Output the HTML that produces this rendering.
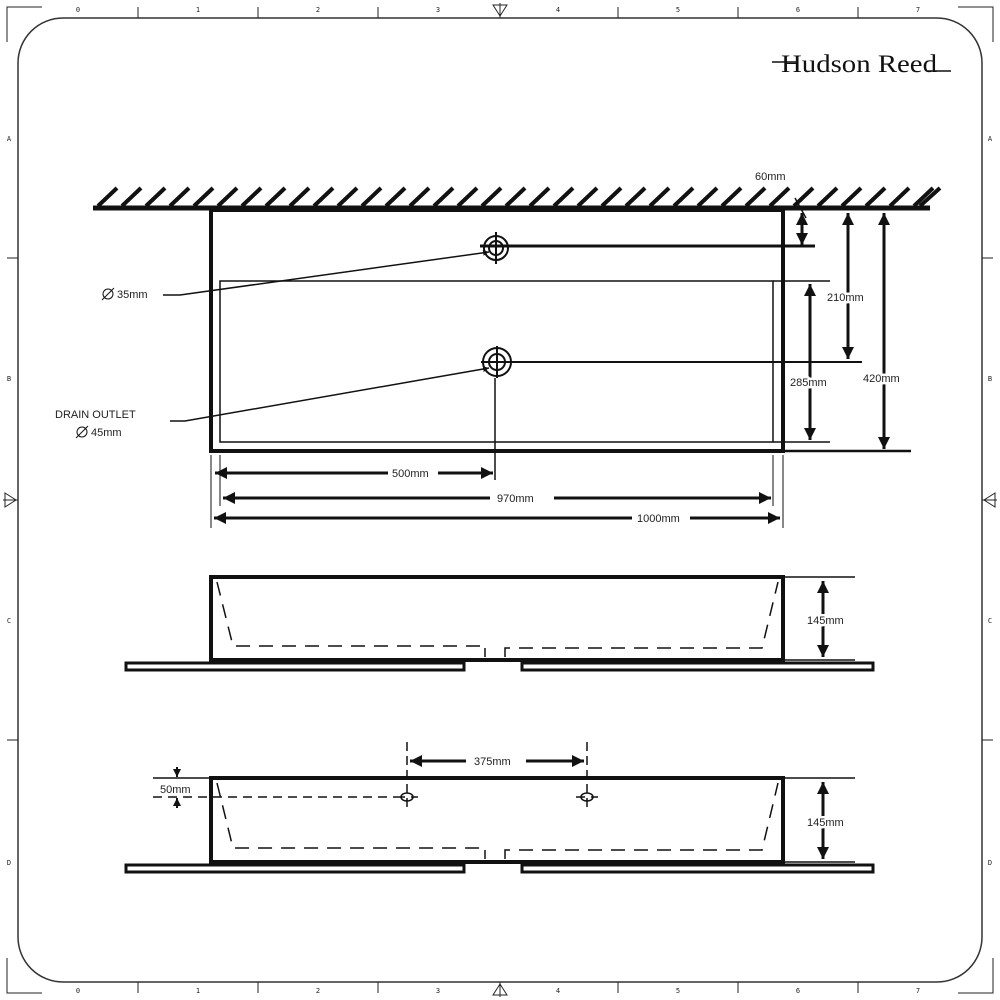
<!DOCTYPE html>
<html><head><meta charset="utf-8"><style>html,body{margin:0;padding:0;background:#fff}svg{display:block}.w{stroke:#fff;stroke-width:5px;paint-order:stroke;stroke-linejoin:round}</style></head><body>
<svg width="1000" height="1000" viewBox="0 0 1000 1000" xmlns="http://www.w3.org/2000/svg" font-family="Liberation Sans, sans-serif" font-size="11">
<defs>
<marker id="a" viewBox="0 0 10 10" refX="10" refY="5" markerWidth="4" markerHeight="4" orient="auto-start-reverse"><path d="M0,0L10,5L0,10z" fill="#111"/></marker>
</defs>
<!-- frame -->
<rect x="18" y="18" width="964" height="964" rx="45" fill="none" stroke="#333" stroke-width="1.5"/>
<g stroke="#222" stroke-width="1" fill="none">
<path d="M7,42V7H42M958,7H993V42M7,958V993H42M958,993H993V958"/>
<path d="M138,7V18M258,7V18M378,7V18M618,7V18M738,7V18M858,7V18"/>
<path d="M138,982V993M258,982V993M378,982V993M618,982V993M738,982V993M858,982V993"/>
<path d="M7,258H18M7,740H18M982,258H993M982,740H993"/>
<path d="M493,5L500,16L507,5ZM500,3V18M493,995L500,984L507,995ZM500,982V997"/>
<path d="M5,493L16,500L5,507ZM3,500H18M995,493L984,500L995,507ZM982,500H997"/>
</g>
<g font-family="DejaVu Sans Mono, monospace" font-size="7" fill="#222" text-anchor="middle">
<text x="78" y="12">0</text><text x="198" y="12">1</text><text x="318" y="12">2</text><text x="438" y="12">3</text><text x="558" y="12">4</text><text x="678" y="12">5</text><text x="798" y="12">6</text><text x="918" y="12">7</text>
<text x="78" y="993">0</text><text x="198" y="993">1</text><text x="318" y="993">2</text><text x="438" y="993">3</text><text x="558" y="993">4</text><text x="678" y="993">5</text><text x="798" y="993">6</text><text x="918" y="993">7</text>
<text x="9" y="141">A</text><text x="9" y="381">B</text><text x="9" y="623">C</text><text x="9" y="865">D</text>
<text x="990" y="141">A</text><text x="990" y="381">B</text><text x="990" y="623">C</text><text x="990" y="865">D</text>
</g>
<!-- logo -->
<text x="781" y="72" font-family="Liberation Serif, serif" font-size="25" fill="#111" textLength="156" lengthAdjust="spacingAndGlyphs">Hudson Reed</text>
<path d="M772,62H796M928,71H951" stroke="#111" stroke-width="1.5"/>

<!-- wall -->
<g stroke="#111" fill="none">
<path d="M93,208H930" stroke-width="5"/>
<path stroke-width="4" d="M98,206L117,188M122,206L141,188M146,206L165,188M170,206L189,188M194,206L213,188M218,206L237,188M242,206L261,188M266,206L285,188M290,206L309,188M314,206L333,188M338,206L357,188M362,206L381,188M386,206L405,188M410,206L429,188M434,206L453,188M458,206L477,188M482,206L501,188M506,206L525,188M530,206L549,188M554,206L573,188M578,206L597,188M602,206L621,188M626,206L645,188M650,206L669,188M674,206L693,188M698,206L717,188M722,206L741,188M746,206L765,188M770,206L789,188M794,206L813,188M818,206L837,188M842,206L861,188M866,206L885,188M890,206L909,188M914,206L933,188M920,206L940,188"/>
<!-- top view -->
<rect x="211" y="210" width="572" height="241" stroke-width="4"/>
<rect x="220" y="281" width="553" height="161" stroke-width="1.5"/>
<path d="M773,281H830M773,442H830" stroke-width="1.5"/>
<path d="M783,451H911" stroke-width="2.5"/>
<path d="M480,246H815" stroke-width="3"/>
<path d="M485,362H862" stroke-width="2"/>
<circle cx="496" cy="248" r="12" stroke-width="2"/><circle cx="496" cy="248" r="7" stroke-width="2"/>
<path d="M496,232V264" stroke-width="2"/>
<circle cx="497" cy="362" r="14" stroke-width="2"/><circle cx="497" cy="362" r="8" stroke-width="2"/>
<path d="M481,362H513M497,346V378" stroke-width="2"/>
<path d="M495,378V480" stroke-width="1.5"/>
<path d="M211,455V528M220,455V506M773,455V506M783,455V528" stroke-width="1"/>
<g stroke-width="3" marker-end="url(#a)" marker-start="url(#a)">
<path d="M802,213V245"/>
<path d="M848,213V359"/>
<path d="M810,284V440"/>
<path d="M884,213V449"/>
</g>
<path d="M795,198L806,218" stroke-width="1.5"/>
<g stroke-width="3">
<path d="M215,473H388" marker-start="url(#a)"/><path d="M438,473H493" marker-end="url(#a)"/>
<path d="M223,498H490" marker-start="url(#a)"/><path d="M554,498H771" marker-end="url(#a)"/>
<path d="M214,518H632" marker-start="url(#a)"/><path d="M690,518H780" marker-end="url(#a)"/>
</g>
<path d="M163,295H180L489,252" stroke-width="1.5" marker-end="url(#a)"/>
<path d="M170,421H185L489,368" stroke-width="1.5" marker-end="url(#a)"/>
<circle cx="108" cy="294" r="5" stroke-width="1"/><path d="M102,300L114,288" stroke-width="1"/>
<circle cx="82" cy="432" r="5" stroke-width="1"/><path d="M76,438L88,426" stroke-width="1"/>

<!-- front view 1 -->
<rect x="211" y="577" width="572" height="83" stroke-width="4"/>
<rect x="126" y="663" width="338" height="7" stroke-width="3"/>
<rect x="522" y="663" width="351" height="7" stroke-width="3"/>
<path d="M217,582L233,646H483M485,648V657M505,657V648H762L778,582" stroke-width="1.5" stroke-dasharray="14,9"/>
<path d="M783,577H855M783,660H855" stroke-width="1.5"/>
<path d="M823,581V657" stroke-width="3" marker-start="url(#a)" marker-end="url(#a)"/>

<!-- front view 2 -->
<rect x="211" y="778" width="572" height="84" stroke-width="4"/>
<rect x="126" y="865" width="338" height="7" stroke-width="3"/>
<rect x="522" y="865" width="351" height="7" stroke-width="3"/>
<path d="M217,783L233,848H483M485,850V859M505,859V850H762L778,783" stroke-width="1.5" stroke-dasharray="14,9"/>
<path d="M783,778H855M783,862H855M153,778H211" stroke-width="1.5"/>
<path d="M823,782V859" stroke-width="3" marker-start="url(#a)" marker-end="url(#a)"/>
<path d="M153,797H400M396,797H418M576,797H598" stroke-width="1.5" stroke-dasharray="9,6"/>
<path d="M407,742V810M587,742V810" stroke-width="1.5" stroke-dasharray="9,5"/>
<ellipse cx="407" cy="797" rx="6" ry="4" stroke-width="1.5"/>
<ellipse cx="587" cy="797" rx="6" ry="4" stroke-width="1.5"/>
<path d="M410,761H466" stroke-width="3" marker-start="url(#a)"/><path d="M526,761H584" stroke-width="3" marker-end="url(#a)"/>
<path d="M177,767V777" stroke-width="2" marker-end="url(#a)"/>
<path d="M177,808V798" stroke-width="2" marker-end="url(#a)"/>
</g>
<g fill="#222" font-size="11">
<text x="755" y="180">60mm</text>
<text class="w" x="827" y="301">210mm</text>
<text class="w" x="790" y="386">285mm</text>
<text class="w" x="863" y="382">420mm</text>
<text x="392" y="477">500mm</text>
<text x="497" y="502">970mm</text>
<text x="637" y="522">1000mm</text>
<text x="117" y="298">35mm</text>
<text x="55" y="418">DRAIN OUTLET</text>
<text x="91" y="436">45mm</text>
<text class="w" x="807" y="624">145mm</text>
<text class="w" x="807" y="826">145mm</text>
<text x="474" y="765">375mm</text>
<text x="160" y="793">50mm</text>
</g>
</svg>
</body></html>
